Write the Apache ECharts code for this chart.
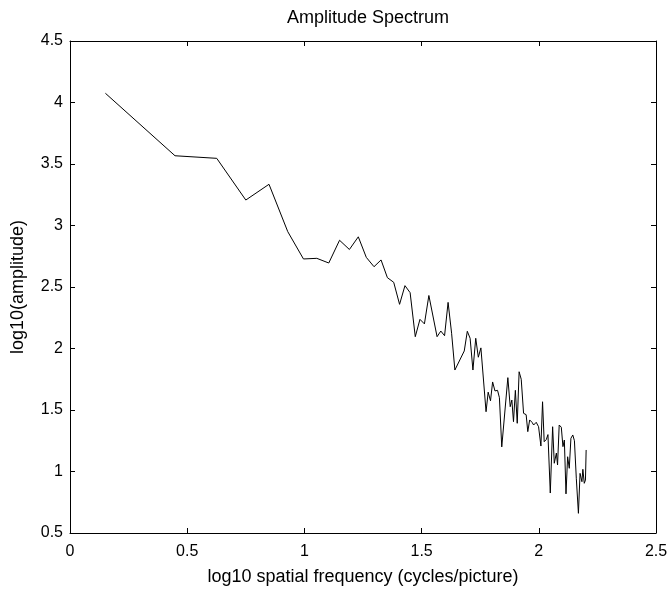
<!DOCTYPE html>
<html><head><meta charset="utf-8">
<script src="https://cdn.jsdelivr.net/npm/echarts@6/dist/echarts.min.js"></script>
<style>html,body{margin:0;padding:0;background:#fff}#c{width:672px;height:591px}</style>
</head><body><div id="c"></div>
<script>
var titleText = 'Amplitude Spectrum';
var xLabel = 'log10 spatial frequency (cycles/picture)';
var yLabel = 'log10(amplitude)';
var xFreq = [0.151,0.448,0.626,0.750,0.849,0.929,0.996,1.053,1.104,1.150,1.192,1.230,1.264,1.297,1.327,1.354,1.381,1.406,1.429,1.451,1.473,1.493,1.512,1.531,1.566,1.582,1.598,1.613,1.628,1.642,1.682,1.695,1.707,1.719,1.731,1.742,1.753,1.775,1.784,1.794,1.803,1.813,1.824,1.832,1.842,1.868,1.878,1.885,1.892,1.900,1.908,1.916,1.925,1.935,1.946,1.953,1.961,1.971,1.978,1.989,1.999,2.009,2.016,2.023,2.032,2.039,2.049,2.059,2.066,2.075,2.080,2.087,2.096,2.103,2.109,2.116,2.123,2.130,2.137,2.145,2.152,2.160,2.165,2.169,2.176,2.184,2.188,2.194,2.199,2.202];
var yAmp = [4.075,3.567,3.546,3.207,3.335,2.950,2.728,2.733,2.695,2.880,2.805,2.908,2.741,2.665,2.720,2.576,2.538,2.359,2.511,2.454,2.096,2.237,2.200,2.431,2.096,2.142,2.104,2.375,2.124,1.825,1.980,2.140,2.083,1.825,2.083,1.929,2.005,1.486,1.645,1.575,1.728,1.655,1.660,1.600,1.200,1.763,1.527,1.581,1.405,1.660,1.392,1.811,1.750,1.473,1.462,1.324,1.419,1.400,1.378,1.400,1.364,1.207,1.567,1.242,1.260,1.300,0.825,1.364,1.067,1.150,1.053,1.378,1.360,1.202,1.256,0.818,1.120,1.026,1.270,1.297,1.250,0.945,0.950,0.660,0.985,0.917,1.018,0.904,0.930,1.175];

var pts = xFreq.map(function(x, i){ return [x, yAmp[i]]; });
var F = 'Liberation Sans, Arial, sans-serif';
var lineStyle = {color:'#000', width:1};
function axisBase(extra){
  var a = {
    axisLine:{show:true, onZero:false, lineStyle:lineStyle},
    axisTick:{show:true, inside:true, length:5, lineStyle:lineStyle},
    splitLine:{show:false},
    axisLabel:{color:'#000', fontFamily:F, fontSize:16}
  };
  for (var k in extra) a[k] = extra[k];
  return a;
}
var chart = echarts.init(document.getElementById('c'), null, {renderer:'canvas'});
chart.setOption({
  animation:false,
  backgroundColor:'#fff',
  title:{text:titleText, left:363, top:4, textAlign:'center',
    textStyle:{fontFamily:F, fontSize:18, fontWeight:'normal', color:'#000'}},
  grid:{left:70, right:16, top:41, bottom:58},
  xAxis:[
    axisBase({type:'value', min:0, max:2.5, interval:0.5, position:'bottom',
      name:xLabel, nameLocation:'middle', nameGap:35,
      nameTextStyle:{fontFamily:F, fontSize:18, color:'#000'},
      axisLabel:{color:'#000', fontFamily:F, fontSize:16, margin:11}}),
    axisBase({type:'value', min:0, max:2.5, interval:0.5, position:'top',
      axisLabel:{show:false}})
  ],
  yAxis:[
    axisBase({type:'value', min:0.5, max:4.5, interval:0.5, position:'left',
      name:yLabel, nameLocation:'middle', nameGap:43, nameRotate:90,
      nameTextStyle:{fontFamily:F, fontSize:18, color:'#000'},
      axisLabel:{color:'#000', fontFamily:F, fontSize:16, margin:7}}),
    axisBase({type:'value', min:0.5, max:4.5, interval:0.5, position:'right',
      axisLabel:{show:false}})
  ],
  series:[{type:'line', data:pts, xAxisIndex:0, yAxisIndex:0, symbol:'none',
    lineStyle:{color:'#000', width:1}}]
});
</script></body></html>
